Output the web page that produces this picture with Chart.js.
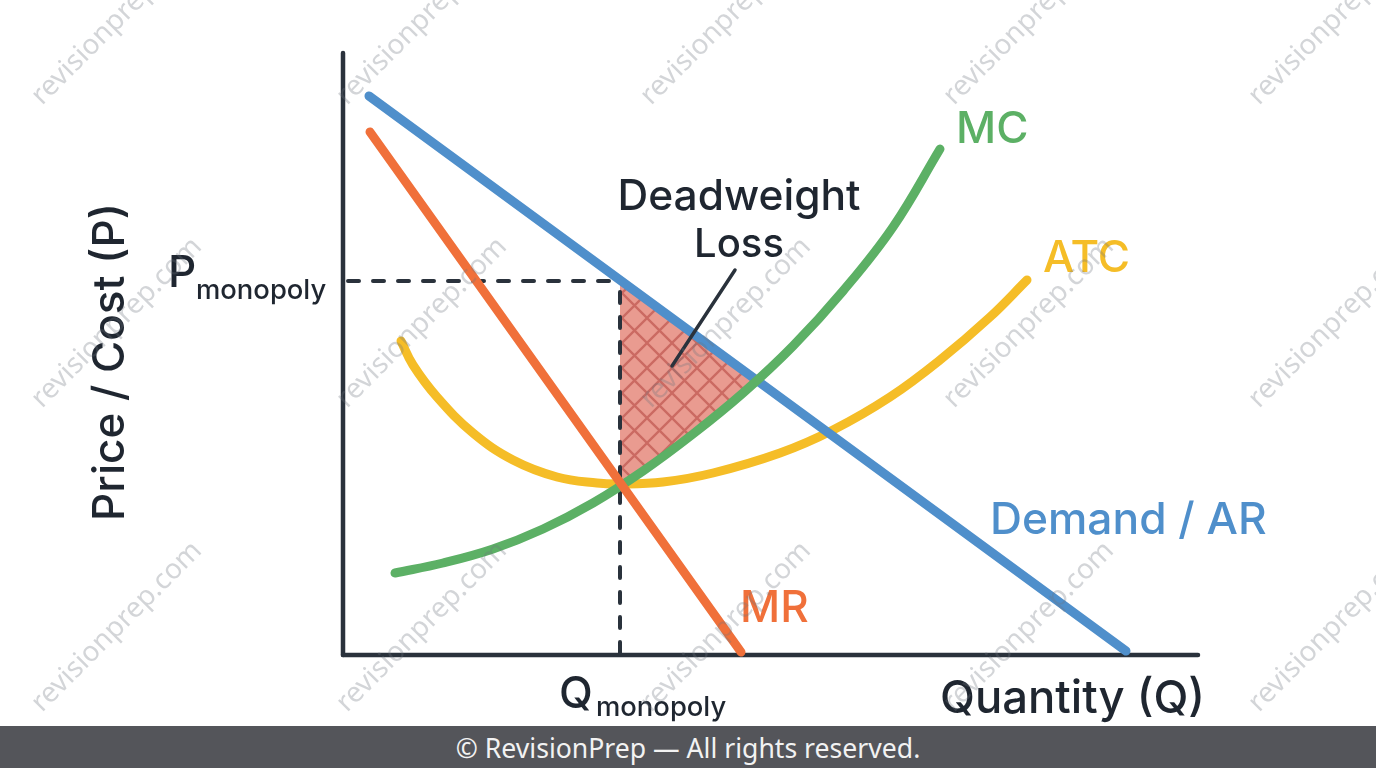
<!DOCTYPE html>
<html>
<head>
<meta charset="utf-8">
<title>Monopoly deadweight loss</title>
<script src="https://cdn.jsdelivr.net/npm/chart.js@4"></script>
<style>
  html, body { margin: 0; padding: 0; background: #fff; overflow: hidden; }
  #wrap { position: relative; width: 1376px; height: 768px; }
  #chart { position: absolute; left: 0; top: 0; }
  #footer {
    position: absolute; left: 0; right: 0; bottom: 0; height: 42px;
    background: #54555a; color: #f2f2f2; text-align: center;
    font: 26.6px/44px "Noto Sans", sans-serif;
  }
</style>
</head>
<body>
<div id="wrap">
  <canvas id="chart" width="1376" height="768"></canvas>
  <div id="footer">© RevisionPrep — All rights reserved.</div>
</div>
<script>
// Curves
const demandQ = [26, 783];
const demandP = [559, 4];
const mrQ = [27, 398];
const mrP = [523, 3];
const mcQ = [52, 100, 150, 200, 250, 300, 350, 400, 450, 500, 550, 597];
const mcP = [82, 92, 106, 126, 152, 184, 221, 262, 309, 364, 428, 506];
const atcQ = [58, 70, 94, 130, 170, 214, 254, 277, 320, 370, 437, 490, 547, 597, 647, 684];
const atcP = [314, 290, 258, 222, 195, 178, 172, 171, 173, 182, 202, 225, 258, 295, 338, 375];

// Monopoly output and price
const qMonopoly = 277;
const pMonopoly = 374;

// Deadweight loss triangle (along demand, then back down MC)
const dwlQ = [277, 416, 400, 350, 300, 277];
const dwlP = [374, 273, 262, 221, 184, 170];

// Leader from the label into the triangle
const leaderQ = [392, 329];
const leaderP = [385, 289];

const qMax = 855;
const pMax = 602;

const points = (xs, ys) => xs.map((x, i) => ({ x: x, y: ys[i] }));

// Cross hatch for the triangle
function hatchPattern() {
    const size = 25;
    const tile = document.createElement('canvas');
    tile.width = size;
    tile.height = size;
    const c = tile.getContext('2d');
    c.fillStyle = '#e99b90';
    c.fillRect(0, 0, size, size);
    c.strokeStyle = '#cb6a62';
    c.lineWidth = 2.3;
    c.beginPath();
    c.moveTo(-2, -2); c.lineTo(size + 2, size + 2);
    c.moveTo(size + 2, -2); c.lineTo(-2, size + 2);
    c.stroke();
    const pattern = document.getElementById('chart').getContext('2d').createPattern(tile, 'repeat');
    pattern.setTransform(new DOMMatrix().translate(22, 18));
    return pattern;
}

// Text on the chart
const DARK = '#1f2630';
const FONT = 'Inter, sans-serif';
const chartLabels = [
    { text: 'Deadweight', q: 396, p: 445, size: 42.5, color: DARK, align: 'center' },
    { text: 'Loss', q: 396, p: 398, size: 40, color: DARK, align: 'center' },
    { text: 'MC', q: 613, p: 512, size: 44, color: '#5cb065' },
    { text: 'ATC', q: 700, p: 383, size: 44, color: '#f5bd27' },
    { text: 'Demand / AR', q: 647, p: 121, size: 44.3, color: '#4f8fcb' },
    { text: 'MR', q: 397, p: 33, size: 44, color: '#f0703a' },
    { text: 'Quantity (Q)', q: 597, p: -58, size: 45.4, color: DARK },
    { text: 'Q', q: 216, p: -53, size: 44, color: DARK },
    { text: 'monopoly', q: 253, p: -61, size: 27.4, color: DARK },
    { text: 'P', q: -175, p: 368, size: 44, color: DARK },
    { text: 'monopoly', q: -147, p: 356, size: 27.4, color: DARK }
];

const textPlugin = {
    id: 'textPlugin',
    afterDraw(chart) {
        const ctx = chart.ctx;
        const sx = chart.scales.x;
        const sy = chart.scales.y;
        ctx.save();
        ctx.textBaseline = 'alphabetic';
        chartLabels.forEach(l => {
            ctx.font = '500 ' + l.size + 'px ' + FONT;
            ctx.fillStyle = l.color;
            ctx.textAlign = l.align || 'left';
            ctx.fillText(l.text, sx.getPixelForValue(l.q), sy.getPixelForValue(l.p));
        });

        // Rotated axis title
        ctx.save();
        ctx.translate(124, 362);
        ctx.rotate(-Math.PI / 2);
        ctx.font = '500 44px ' + FONT;
        ctx.fillStyle = DARK;
        ctx.textAlign = 'center';
        ctx.fillText('Price / Cost (P)', 0, 0);
        ctx.restore();

        // Watermark grid
        ctx.font = '28px "Noto Sans", sans-serif';
        ctx.fillStyle = 'rgba(110, 115, 125, 0.3)';
        ctx.textAlign = 'left';
        [42, 347, 651, 954, 1259].forEach(x => {
            [106, 409, 713].forEach(y => {
                ctx.save();
                ctx.translate(x, y);
                ctx.rotate(-Math.PI / 4);
                ctx.fillText('revisionprep.com', 0, 0);
                ctx.restore();
            });
        });
        ctx.restore();
    }
};

function line(xs, ys, color, width, extra) {
    return Object.assign({
        data: points(xs, ys),
        showLine: true,
        borderColor: color,
        borderWidth: width,
        borderCapStyle: 'round',
        borderJoinStyle: 'round',
        pointRadius: 0,
        fill: false,
        clip: false
    }, extra || {});
}

function initChart() {
    const ctx = document.getElementById('chart').getContext('2d');
    new Chart(ctx, {
        type: 'scatter',
        data: {
            datasets: [
                line(leaderQ, leaderP, '#2a323c', 3.5),
                line(mrQ, mrP, '#f0703a', 9),
                line(mcQ, mcP, '#5cb065', 9, { tension: 0.4 }),
                line(demandQ, demandP, '#4f8fcb', 9),
                line(atcQ, atcP, '#f5bd27', 9, { tension: 0.4 }),
                line([qMonopoly, qMonopoly], [2, pMonopoly], '#2a323c', 4, { borderDash: [11, 14] }),
                line([5, qMonopoly], [pMonopoly, pMonopoly], '#2a323c', 4, { borderDash: [11, 14] }),
                line(dwlQ, dwlP, 'rgba(0,0,0,0)', 0, { fill: 'shape', backgroundColor: hatchPattern() }),
                line([0, qMax], [0, 0], '#2a323c', 4.5),
                line([0, 0], [0, pMax], '#2a323c', 4.5)
            ]
        },
        options: {
            responsive: false,
            animation: false,
            devicePixelRatio: 1,
            layout: { padding: { left: 343, right: 178, top: 53, bottom: 113 } },
            plugins: { legend: { display: false }, tooltip: { enabled: false } },
            scales: {
                x: { type: 'linear', min: 0, max: qMax, display: false },
                y: { type: 'linear', min: 0, max: pMax, display: false }
            }
        },
        plugins: [textPlugin]
    });
}

document.addEventListener('DOMContentLoaded', initChart);
</script>
</body>
</html>
